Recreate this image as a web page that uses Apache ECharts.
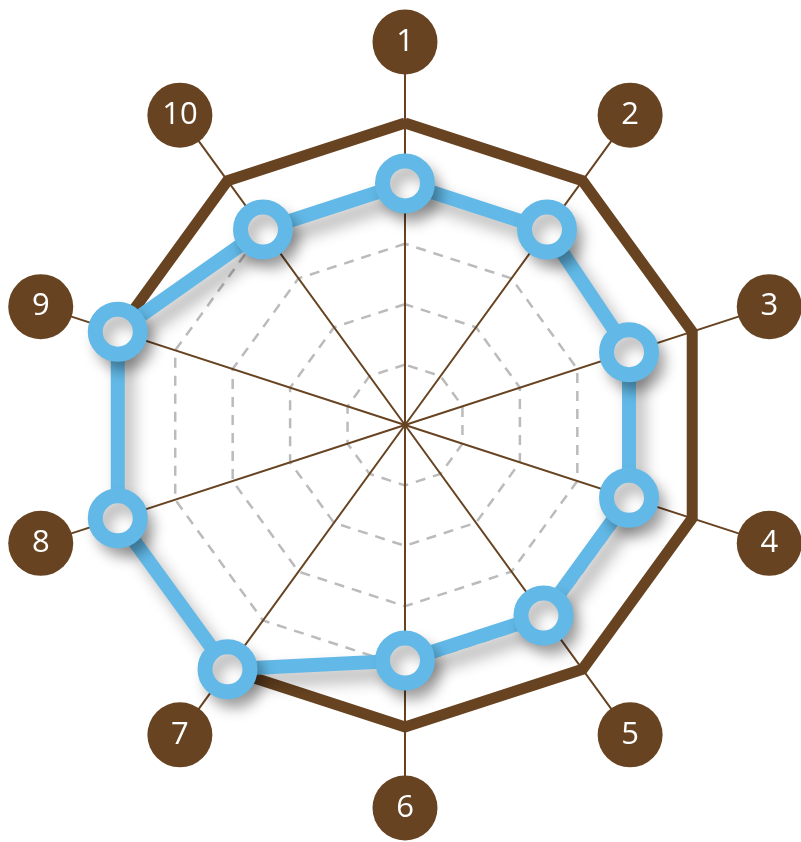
<!DOCTYPE html>
<html>
<head>
<meta charset="utf-8">
<script src="https://cdn.jsdelivr.net/npm/echarts@6/dist/echarts.min.js"></script>
<style>
html,body{margin:0;padding:0;background:#fff;}
#c{width:801px;height:842px;}
</style>
</head>
<body>
<div id="c"></div>
<script>
// Data
var axisLabels = ['1','2','3','4','5','6','7','8','9','10'];
var labelValues = [1,2,3,4,5,6,7,8,9,10];
var maxValue = 100;
var seriesValues = [80, 80, 78, 78, 78, 78, 100, 100, 100, 80];
var outerValues = [100, 100, 100, 100, 100, 100, 100, 100, 100, 100];

var BROWN = '#674321';
var BLUE = '#62b9e7';

// ECharts radar places indicators counter-clockwise; reorder for clockwise layout
function cw(arr) {
  var out = [arr[0]];
  for (var i = arr.length - 1; i >= 1; i--) out.push(arr[i]);
  return out;
}

var labelInd = cw(labelValues).map(function (v) { return { name: String(v), max: v, min: 0 }; });
var mainInd = cw(axisLabels).map(function (n) { return { name: n, max: maxValue, min: 0 }; });

var chart = echarts.init(document.getElementById('c'));
chart.setOption({
  animation: false,
  backgroundColor: '#fff',
  radar: [
    {
      center: [405, 425],
      radius: 383,
      startAngle: 90,
      shape: 'polygon',
      indicator: labelInd,
      splitNumber: 1,
      axisName: { show: false },
      axisLine: { lineStyle: { color: BROWN, width: 2 } },
      splitLine: { show: false },
      splitArea: { show: false },
      axisTick: { show: false },
      axisLabel: { show: false }
    },
    {
      center: [405, 425],
      radius: 302,
      startAngle: 90,
      shape: 'polygon',
      indicator: mainInd,
      splitNumber: 5,
      axisName: { show: false },
      axisLine: { show: false },
      splitLine: { lineStyle: { color: '#bbbbbb', width: 2.5, type: [10, 8] } },
      splitArea: { show: false },
      axisTick: { show: false },
      axisLabel: { show: false }
    }
  ],
  series: [
    {
      type: 'radar',
      radarIndex: 1,
      z: 2,
      silent: true,
      symbol: 'none',
      lineStyle: { color: BROWN, width: 11, join: 'miter' },
      data: [{ value: cw(outerValues) }]
    },
    {
      type: 'radar',
      radarIndex: 1,
      z: 3,
      silent: true,
      symbol: 'circle',
      symbolSize: 45,
      lineStyle: {
        color: BLUE, width: 14, join: 'round',
        shadowColor: 'rgba(0,0,0,0.3)', shadowBlur: 16, shadowOffsetX: 8, shadowOffsetY: 11
      },
      itemStyle: {
        color: '#ffffff', borderColor: BLUE, borderWidth: 15,
        shadowColor: 'rgba(0,0,0,0.28)', shadowBlur: 14, shadowOffsetX: 7, shadowOffsetY: 10
      },
      data: [{ value: cw(seriesValues) }]
    },
    {
      type: 'radar',
      radarIndex: 0,
      z: 4,
      silent: true,
      symbol: 'circle',
      symbolSize: 65,
      lineStyle: { width: 0, opacity: 0 },
      itemStyle: { color: BROWN },
      label: {
        show: true,
        position: 'inside',
        color: '#ffffff',
        fontSize: 31,
        fontFamily: 'Open Sans',
        fontWeight: 400,
        formatter: function (p) {
          return String(p.value);
        }
      },
      data: [{ value: cw(labelValues) }]
    }
  ]
});
</script>
</body>
</html>
